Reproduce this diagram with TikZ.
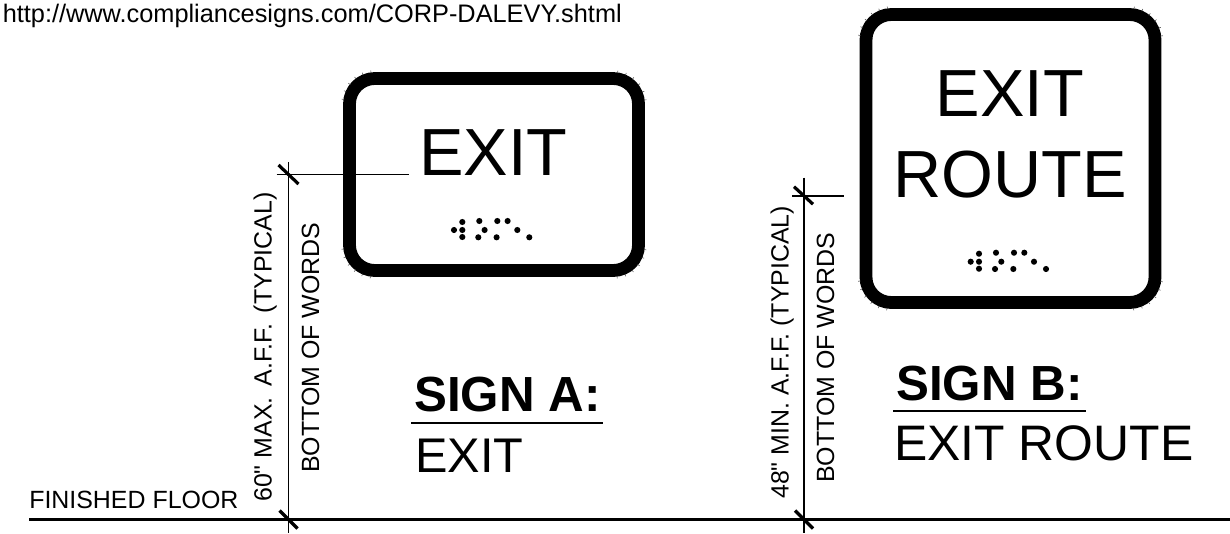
\documentclass[tikz,border=0pt]{standalone}
\usepackage{fontspec}
\setmainfont{Liberation Sans}
\newfontfamily\straightfont{Liberation Sans}[Ligatures=TeXOff]
\usetikzlibrary{positioning, calc}

\tikzset{
  sign/.style={draw, line width=9.6pt, rounded corners=19pt, minimum width=216.75pt, inner sep=0pt, outer sep=0pt},
  label/.style={inner sep=0pt, anchor=base west},
  dim/.style={line width=1.4pt},
  tick/.style={line width=2.4pt},
  hair/.style={line width=0.4pt, black!70},
  signword/.style={inner sep=0pt, anchor=base, font=\fontsize{50}{50}\selectfont},
  note/.style={inner sep=0pt, anchor=base west, font=\fontsize{18.7}{18.7}\selectfont},
  dot/.style={circle, fill, inner sep=0pt, minimum size=4.6pt}
}

\newcommand{\brailledots}[1]{
  \foreach \bx/\by in {0/0, 8.3/-8, 8.3/0, 8.3/7, 25.3/-9, 30.6/0, 24.3/7.3, 43.3/-9, 53.6/-9, 42.6/7.3, 63.3/0, 75.3/7.3}
    \node[dot] at ($(#1)+(\bx,\by)$) {};
}

% little spikes on the outer edge of the corners
\newcommand{\signhairs}[1]{
  \foreach \cname/\sx/\sy/\first in {north west/25.3/25.3/180, north east/-25.3/25.3/270, south west/25.3/-25.3/90, south east/-25.3/-25.3/0}
    \foreach \step in {8,23,38,53,68,83}
      \draw[hair] ($(#1.\cname)+(\sx,\sy)+(\first+\step:31)$) -- ($(#1.\cname)+(\sx,\sy)+(\first+\step:33.5)$);
}

\begin{document}
\begin{tikzpicture}[x=0.75pt, y=-0.75pt]
  \useasboundingbox (0,0) rectangle (1230,533);

  \node[label, font=\fontsize{19}{19}\selectfont] (url) at (2.5,22.7) {http://www.compliancesigns.com/CORP-DALEVY.shtml};

  % sign A
  \node[sign, minimum height=144pt] (signa) at (494,174.5) {};
  \signhairs{signa}
  \node[signword] (exita) at (493.5,175) {EXIT};
  \coordinate (braillea) at (454,230);
  \brailledots{braillea}

  % sign B
  \node[sign, minimum height=216pt] (signb) at (1010.5,158.5) {};
  \signhairs{signb}
  \node[signword] (exitb) at (1010,116) {EXIT};
  \node[signword] (routeb) at (1010,197) {ROUTE};
  \coordinate (brailleb) at (970.7,261.7);
  \brailledots{brailleb}

  % floor
  \coordinate (floorl) at (29,519.5);
  \coordinate (floorr) at (1230,519.5);
  \draw[line width=1.6pt] (floorl) -- (floorr);
  \node[note] (floor) at (29,508) {FINISHED FLOOR};

  % dimension A
  \coordinate (dimatop) at (288.5,174.5);
  \coordinate (dimabot) at (288.5,519.5);
  \draw[dim] ($(dimatop)+(0,-12.5)$) -- ($(dimabot)+(0,13)$);
  \draw[dim] ($(dimatop)+(-12,0)$) -- ($(dimatop)+(120.5,0)$);
  \draw[tick] ($(dimatop)+(-10,-9.5)$) -- ($(dimatop)+(10,9.5)$);
  \draw[tick] ($(dimabot)+(-9,-9)$) -- ($(dimabot)+(9,9)$);
  \node[note, rotate=90] (maxa) at (271.5,502) {60{\straightfont\symbol{34}} MAX.\hspace{3pt} A.F.F.\hspace{3pt} (TYPICAL)};
  \node[note, rotate=90] (wordsa) at (319,473) {BOTTOM OF WORDS};

  % dimension B
  \coordinate (dimbtop) at (804,195.7);
  \coordinate (dimbbot) at (804,519.5);
  \draw[dim] ($(dimbtop)+(0,-18)$) -- ($(dimbbot)+(0,13)$);
  \draw[dim] ($(dimbtop)+(-12,0)$) -- ($(dimbtop)+(40,0)$);
  \draw[tick] ($(dimbtop)+(-10,-9)$) -- ($(dimbtop)+(9,8.5)$);
  \draw[tick] ($(dimbbot)+(-9,-9)$) -- ($(dimbbot)+(9,9)$);
  \node[note, rotate=90] (minb) at (788.5,499) {48{\straightfont\symbol{34}} MIN. A.F.F. (TYPICAL)};
  \node[note, rotate=90] (wordsb) at (834,483) {BOTTOM OF WORDS};

  % captions
  \node[label, font=\fontsize{37}{37}\selectfont\bfseries] (capa) at (414,411.5) {SIGN A:};
  \node[label, font=\fontsize{36.5}{36.5}\selectfont] (texta) at (415,472) {EXIT};
  \coordinate (rulea) at (411,422.5);
  \draw[line width=1.5pt] (rulea) -- ++(192,0);

  \node[label, font=\fontsize{37}{37}\selectfont\bfseries] (capb) at (896,400) {SIGN B:};
  \node[label, font=\fontsize{37.4}{37.4}\selectfont] (textb) at (894,460) {EXIT ROUTE};
  \coordinate (ruleb) at (893,410.5);
  \draw[line width=1.5pt] (ruleb) -- ++(193,0);
\end{tikzpicture}
\end{document}
